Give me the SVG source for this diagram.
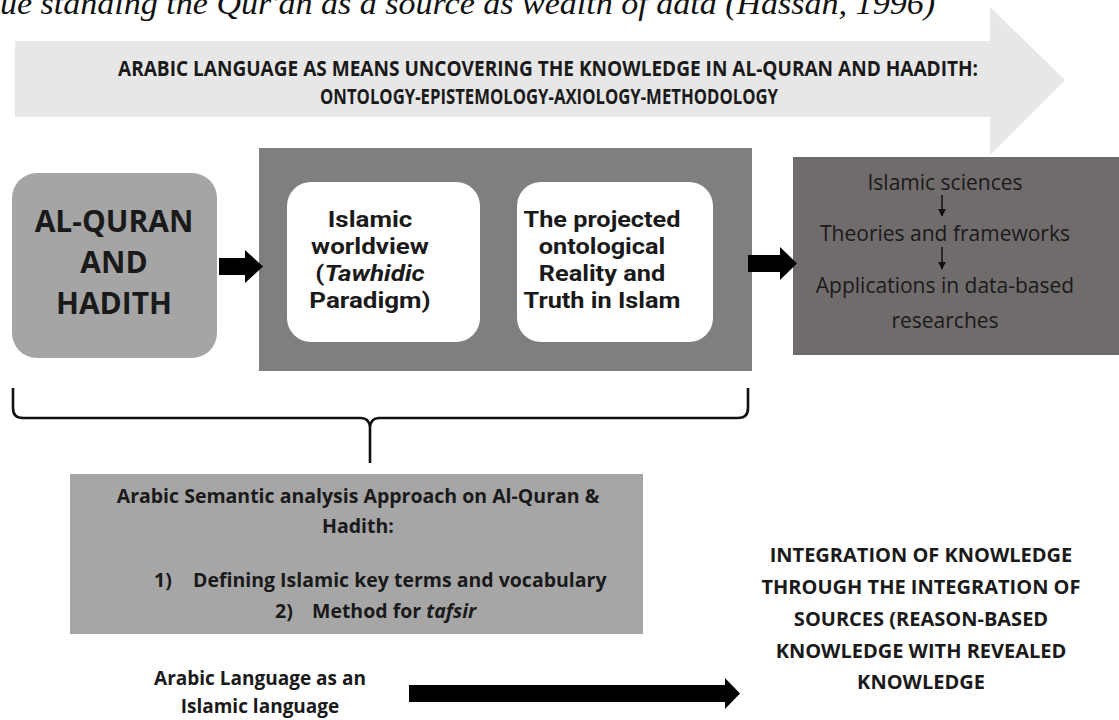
<svg xmlns="http://www.w3.org/2000/svg" width="1119" height="720" viewBox="0 0 1119 720">
<style>
.b{font-family:"Open Sans","Liberation Sans",sans-serif;font-weight:700;fill:#1a1a1a;text-anchor:middle}
.w{font-family:Roboto,"Liberation Sans",sans-serif;font-weight:700;font-size:22px;fill:#1a1a1a;text-anchor:middle}
.r{font-family:"Open Sans","Liberation Sans",sans-serif;font-weight:400;fill:#1a1a1a;text-anchor:middle}
.cap{font-family:"Liberation Serif",serif;font-style:italic;font-size:32px;fill:#111}
.blk{fill:#000}
.brace{fill:none;stroke:#111;stroke-width:2.6}
.thin{stroke:#111;stroke-width:1.5;fill:none}
</style>
<defs>
<marker id="ah" viewBox="0 0 10 10" refX="9" refY="5" markerWidth="8" markerHeight="8" markerUnits="userSpaceOnUse" orient="auto"><path d="M0,0 L10,5 L0,10 z" fill="#111"/></marker>
</defs>
<rect width="1119" height="720" fill="#fff"/>
<text class="cap" x="0" y="14" textLength="935" lengthAdjust="spacingAndGlyphs">ue standing the Qur'an as a source as wealth of data (Hassan, 1996)</text>

<g id="banner">
<polygon points="15,41 990,41 990,7 1065,80 990,155 990,117 15,117" fill="#e7e7e7"/>
<text class="b" x="548" y="76" font-size="21" textLength="860" lengthAdjust="spacingAndGlyphs">ARABIC LANGUAGE AS MEANS UNCOVERING THE KNOWLEDGE IN AL-QURAN AND HAADITH:</text>
<text class="b" x="549" y="104" font-size="21" textLength="458" lengthAdjust="spacingAndGlyphs">ONTOLOGY-EPISTEMOLOGY-AXIOLOGY-METHODOLOGY</text>
</g>

<g id="alquran">
<rect x="12" y="173" width="205" height="185" rx="25" fill="#a5a5a5"/>
<text class="b" x="114" y="232" font-size="30">AL-QURAN</text>
<text class="b" x="114" y="273" font-size="30">AND</text>
<text class="b" x="114" y="314" font-size="30">HADITH</text>
</g>

<g id="worldview-group">
<rect x="259" y="148" width="493" height="223" fill="#7f7f7f"/>
<g id="worldview">
<rect x="287" y="182" width="193" height="160" rx="24" fill="#fff"/>
<g transform="matrix(1.18,0,0,1,-66.6,0)">
<text class="w" x="370" y="227">Islamic</text>
<text class="w" x="370" y="254">worldview</text>
<text class="w" x="370" y="281">(<tspan font-style="italic">Tawhidic</tspan></text>
<text class="w" x="370" y="308">Paradigm)</text>
</g>
</g>
<g id="reality">
<rect x="517" y="182" width="196" height="160" rx="24" fill="#fff"/>
<g transform="matrix(1.15,0,0,1,-90.3,0)">
<text class="w" x="602" y="227">The projected</text>
<text class="w" x="602" y="254">ontological</text>
<text class="w" x="602" y="281">Reality and</text>
<text class="w" x="602" y="308">Truth in Islam</text>
</g>
</g>
</g>

<g id="sciences">
<rect x="793" y="157" width="326" height="198" fill="#716c6c"/>
<text class="r" x="945" y="190" font-size="21">Islamic sciences</text>
<text class="r" x="945" y="241" font-size="21">Theories and frameworks</text>
<text class="r" x="945" y="293" font-size="21">Applications in data-based</text>
<text class="r" x="945" y="328" font-size="21">researches</text>
</g>

<g id="semantic">
<rect x="70" y="474" width="573" height="160" fill="#a6a6a6"/>
<text class="b" x="358" y="503" font-size="19.5">Arabic Semantic analysis Approach on Al-Quran &amp;</text>
<text class="b" x="358" y="533" font-size="19.5">Hadith:</text>
<text class="b" x="163" y="587" font-size="19.5">1)</text>
<text class="b" x="193" y="587" font-size="19.5" style="text-anchor:start">Defining Islamic key terms and vocabulary</text>
<text class="b" x="284" y="618" font-size="19.5">2)</text>
<text class="b" x="312" y="618" font-size="19.5" style="text-anchor:start">Method for <tspan font-style="italic">tafsir</tspan></text>
</g>

<g id="arabic-language">
<text class="b" x="260" y="685" font-size="19">Arabic Language as an</text>
<text class="b" x="260" y="713" font-size="19">Islamic language</text>
</g>

<g id="integration">
<text class="b" x="921" y="562" font-size="20">INTEGRATION OF KNOWLEDGE</text>
<text class="b" x="921" y="594" font-size="20">THROUGH THE INTEGRATION OF</text>
<text class="b" x="921" y="626" font-size="20">SOURCES (REASON-BASED</text>
<text class="b" x="921" y="658" font-size="20">KNOWLEDGE WITH REVEALED</text>
<text class="b" x="921" y="689" font-size="20">KNOWLEDGE</text>
</g>

<g id="connectors">
<polygon class="blk" points="219,258 245,258 245,250 263,266.5 245,283 245,275 219,275"/>
<polygon class="blk" points="748,255 780,255 780,247 797,263.5 780,280 780,272 748,272"/>
<polygon class="blk" points="409,685 725,685 725,678 740,693.5 725,709 725,702 409,702"/>
<line class="thin" x1="942" y1="195" x2="942" y2="216" marker-end="url(#ah)"/>
<line class="thin" x1="942" y1="247" x2="942" y2="269" marker-end="url(#ah)"/>
<path class="brace" d="M13,388 V408 Q13,418 23,418 H361 Q369,418 370,427 V463 M370,427 Q371,418 379,418 H738 Q748,418 748,408 V388"/>
</g>
</svg>
